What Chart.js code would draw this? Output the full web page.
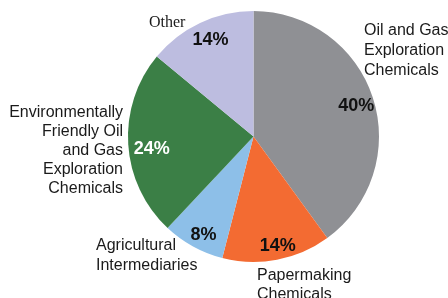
<!DOCTYPE html>
<html>
<head>
<meta charset="utf-8">
<script src="https://cdn.jsdelivr.net/npm/chart.js@4/dist/chart.umd.min.js"></script>
<style>
html,body{margin:0;padding:0;background:#fff;}
#wrap{width:448px;height:298px;position:relative;}
</style>
</head>
<body>
<div id="wrap"><canvas id="c" width="448" height="298"></canvas></div>
<script>
const categories = ["Oil and Gas Exploration Chemicals", "Papermaking Chemicals", "Agricultural Intermediaries", "Environmentally Friendly Oil and Gas Exploration Chemicals", "Other"];
const shares = [40, 14, 8, 24, 14];
const sliceColors = ["#8f9094", "#f36b32", "#8dbfe8", "#3b7f46", "#bdbde0"];
const pctColors = ["#111111", "#111111", "#111111", "#ffffff", "#111111"];
const labelLines = [
  ["Oil and Gas", "Exploration", "Chemicals"],
  ["Papermaking", "Chemicals"],
  ["Agricultural", "Intermediaries"],
  ["Environmentally", "Friendly Oil", "and Gas", "Exploration", "Chemicals"],
  ["Other"]
];
// label placement relative to pie centre: [dx, dy, align, lineHeight, font]
const labelPlace = [
  [110.5, -102, "left", 20, "16px 'Liberation Sans', Arial, sans-serif"],
  [3.5, 143, "left", 19, "16px 'Liberation Sans', Arial, sans-serif"],
  [-157.5, 113, "left", 20, "16px 'Liberation Sans', Arial, sans-serif"],
  [-130.5, -20, "right", 19, "16px 'Liberation Sans', Arial, sans-serif"],
  [-104.5, -109.5, "left", 16, "16px 'Liberation Serif', 'Times New Roman', serif"]
];
// small nudges of the percentage labels from their mid-angle anchor
const pctNudge = [[0, 2], [4, 3], [2, 3], [6, 5], [3, 0]];

const labelPlugin = {
  id: 'pieLabels',
  afterDatasetsDraw(chart) {
    const ctx = chart.ctx;
    const meta = chart.getDatasetMeta(0);
    meta.data.forEach((arc, i) => {
      const p = arc.getProps(['x','y','startAngle','endAngle','outerRadius'], true);
      const mid = (p.startAngle + p.endAngle) / 2;
      const r = p.outerRadius * 0.86;
      ctx.save();
      ctx.font = "bold 18px 'Liberation Sans', Arial, sans-serif";
      ctx.fillStyle = pctColors[i];
      ctx.textAlign = 'center';
      ctx.textBaseline = 'middle';
      ctx.fillText(shares[i] + '%', p.x + Math.cos(mid) * r + pctNudge[i][0], p.y + Math.sin(mid) * r + 1 + pctNudge[i][1]);
      const pl = labelPlace[i];
      ctx.font = pl[4];
      ctx.fillStyle = '#1a1a1a';
      ctx.textAlign = pl[2];
      ctx.textBaseline = 'alphabetic';
      labelLines[i].forEach((t, k) => {
        ctx.fillText(t, p.x + pl[0], p.y + pl[1] + k * pl[3]);
      });
      ctx.restore();
    });
  }
};

new Chart(document.getElementById('c'), {
  type: 'pie',
  data: {
    labels: categories,
    datasets: [{
      data: shares,
      backgroundColor: sliceColors,
      borderWidth: 0
    }]
  },
  options: {
    responsive: false,
    animation: false,
    layout: { padding: { left: 128, right: 69, top: 11, bottom: 36 } },
    plugins: { legend: { display: false }, tooltip: { enabled: false } }
  },
  plugins: [labelPlugin]
});
</script>
</body>
</html>
